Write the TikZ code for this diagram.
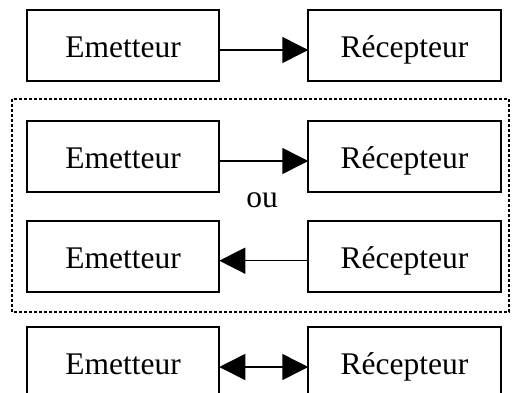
\documentclass[tikz,border=0pt]{standalone}
\usepackage{fontspec}
\setmainfont{Liberation Serif}
\usetikzlibrary{arrows.meta}
\tikzset{
  boxnode/.style={draw, line width=1.8pt, minimum width=192.5pt, minimum height=71.5pt,
    inner sep=0pt, outer sep=0pt, text height=23.6pt, text depth=0pt,
    font=\fontsize{31.5}{36}\selectfont},
  arr/.style={line width=1.5pt, {Triangle[length=26pt,width=26pt]}-{Triangle[length=26pt,width=26pt]}},
  arrR/.style={line width=1.5pt, -{Triangle[length=26pt,width=26pt]}},
  frame/.style={line width=1.5pt, dash pattern=on 3pt off 2pt}
}
\begin{document}
\begin{tikzpicture}[x=1pt,y=-1pt]
\clip (0,0) rectangle (517,392);
\useasboundingbox (0,0) rectangle (517,392);
\node[boxnode] (e1) at (123,45.5) {Emetteur};
\node[boxnode] (r1) at (404.5,45.5) {Récepteur};
\node[boxnode] (e2) at (123,156.5) {Emetteur};
\node[boxnode] (r2) at (404.5,156.5) {Récepteur};
\node[boxnode] (e3) at (123,256.5) {Emetteur};
\node[boxnode] (r3) at (404.5,256.5) {Récepteur};
\node[boxnode] (e4) at (123,363) {Emetteur};
\node[boxnode] (r4) at (404.5,363) {Récepteur};
\node[anchor=base, inner sep=0pt, font=\fontsize{31.5}{36}\selectfont] (ou) at (262,207) {ou};
\draw[arrR] ([yshift=-4.5pt]e1.east) -- ([yshift=-4.5pt]r1.west);
\draw[arrR] ([yshift=-4.5pt]e2.east) -- ([yshift=-4.5pt]r2.west);
\draw[arrR] ([yshift=-4.2pt]r3.west) -- ([yshift=-4.2pt]e3.east);
\draw[arr] ([yshift=-4pt]e4.east) -- ([yshift=-4pt]r4.west);
\draw[frame] (12,99) rectangle (509,312);
\end{tikzpicture}
\end{document}
